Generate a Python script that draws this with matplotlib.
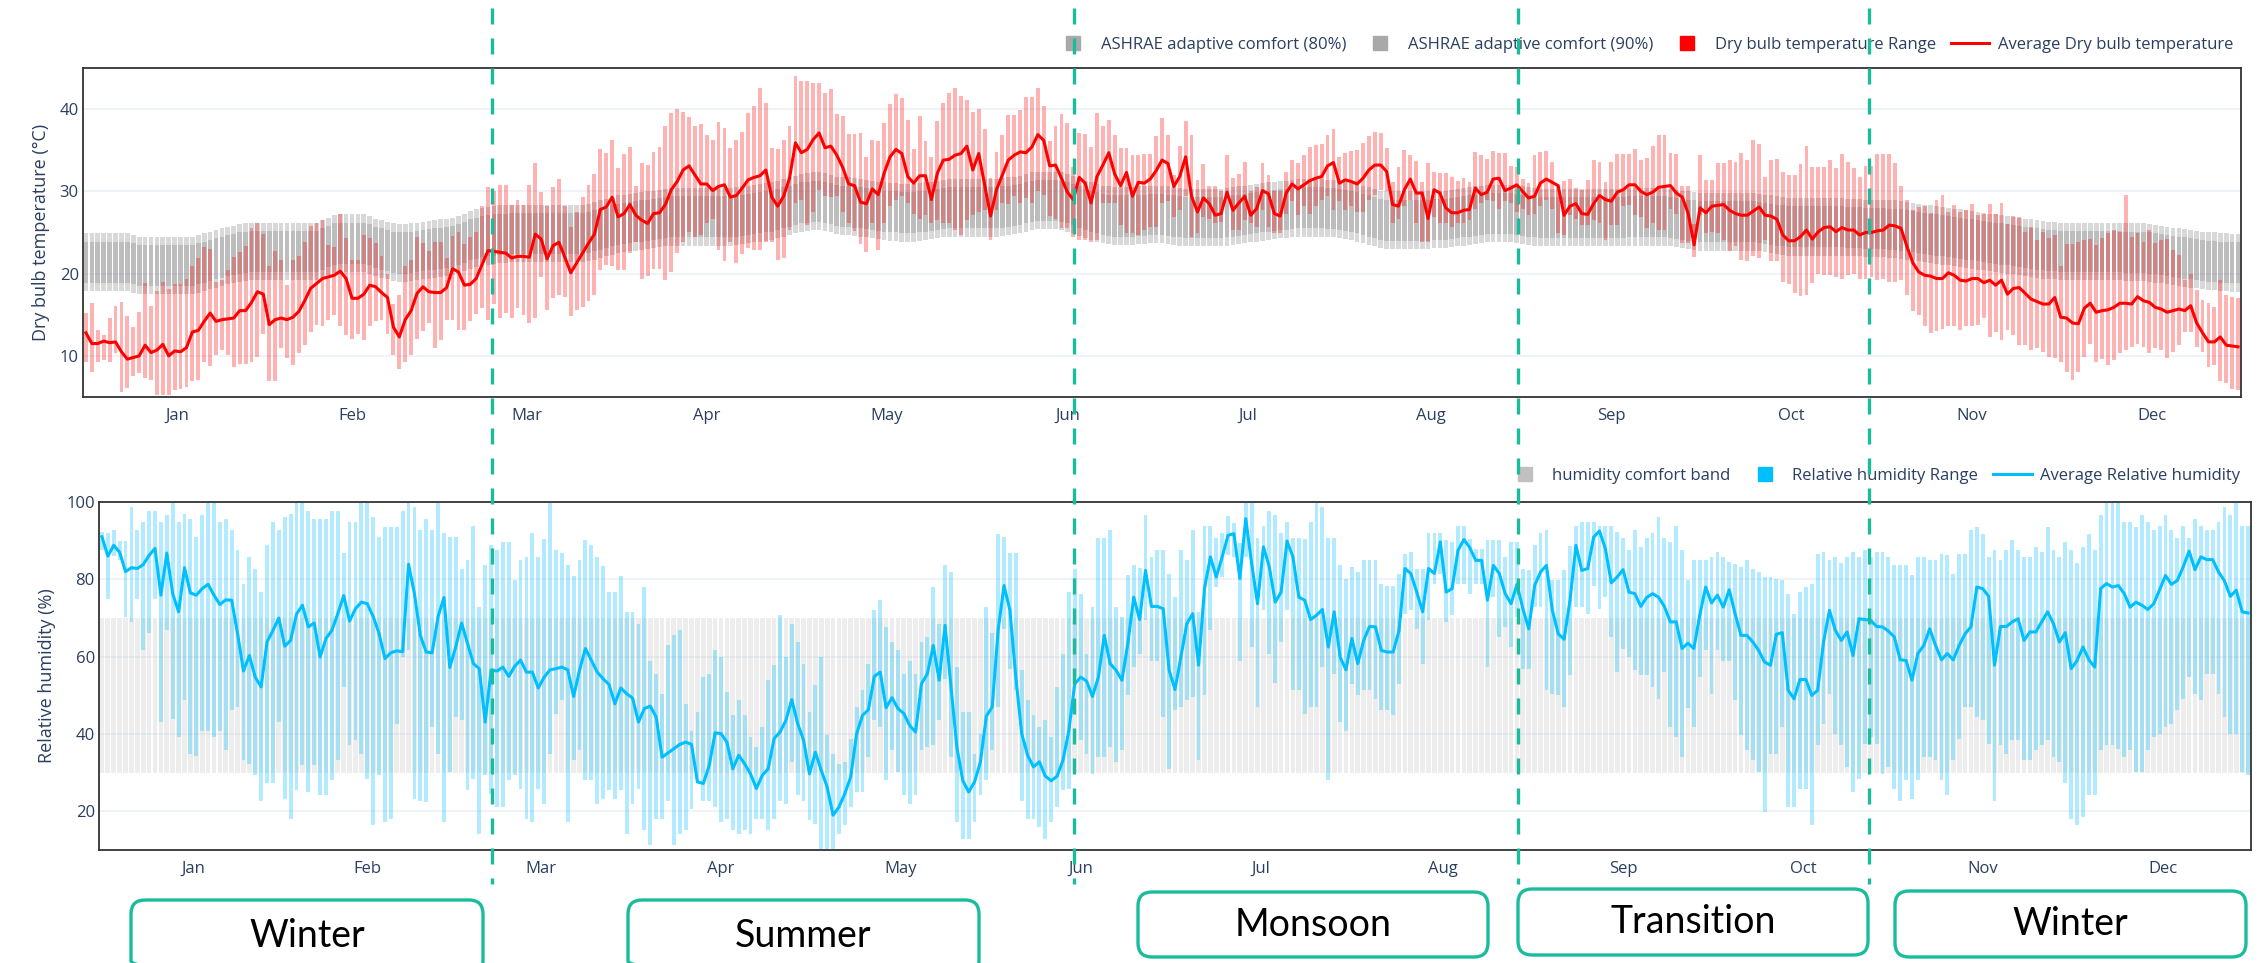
import numpy as np
import matplotlib.pyplot as plt
from matplotlib.lines import Line2D
from matplotlib.patches import FancyBboxPatch

plt.rcParams['font.family'] = ['Open Sans', 'DejaVu Sans']

months = ['Jan', 'Feb', 'Mar', 'Apr', 'May', 'Jun', 'Jul', 'Aug', 'Sep', 'Oct', 'Nov', 'Dec']
month_days = [31, 28, 31, 30, 31, 30, 31, 31, 30, 31, 30, 31]

# daily dry bulb temperature (degC), one row per month
t_avg = [
    12.8, 11.5, 11.5, 11.8, 11.6, 11.7, 10.5, 9.6, 9.8, 10.0, 11.3, 10.4, 10.7, 11.4, 10.0, 10.6, 10.5, 11.0, 12.9, 13.1, 14.2, 15.2, 14.2, 14.4, 14.5, 14.6, 15.5, 15.5, 16.5, 17.8, 17.5,
    13.8, 14.4, 14.6, 14.4, 14.7, 15.4, 16.7, 18.2, 18.8, 19.4, 19.6, 19.8, 20.3, 19.4, 17.0, 17.0, 17.5, 18.6, 18.4, 17.7, 17.1, 13.5, 12.3, 14.4, 15.5, 17.6, 18.4, 17.8,
    17.7, 17.7, 18.3, 20.6, 20.2, 18.6, 18.7, 19.4, 21.1, 22.8, 22.7, 22.6, 22.5, 21.9, 22.1, 22.1, 22.0, 24.8, 24.2, 21.8, 23.4, 23.8, 22.0, 20.1, 21.3, 22.5, 23.7, 24.8, 27.8, 28.1, 29.3,
    26.9, 27.3, 28.4, 27.1, 26.5, 26.1, 27.3, 27.4, 28.4, 30.2, 31.2, 32.6, 33.1, 32.0, 30.9, 30.9, 30.1, 30.6, 30.8, 29.3, 29.5, 30.4, 31.4, 31.7, 31.9, 32.6, 29.3, 28.2, 29.4, 31.6,
    35.9, 34.7, 35.1, 36.3, 37.1, 35.3, 35.5, 34.4, 32.9, 30.9, 30.7, 28.7, 28.5, 30.3, 29.6, 32.2, 34.2, 35.1, 34.6, 31.8, 31.0, 31.9, 31.9, 29.0, 32.2, 33.8, 33.9, 34.4, 34.6, 35.5, 32.6,
    34.6, 30.8, 27.0, 30.2, 32.0, 33.8, 34.4, 34.8, 34.7, 35.4, 36.9, 36.2, 33.1, 33.2, 31.6, 29.9, 29.0, 31.7, 31.0, 28.6, 31.8, 33.2, 34.7, 32.1, 30.7, 32.3, 29.4, 31.1, 31.0, 31.5,
    32.5, 33.8, 33.4, 30.6, 31.8, 34.2, 29.4, 27.5, 29.2, 28.5, 27.1, 27.3, 29.9, 27.7, 28.6, 29.4, 27.1, 27.9, 30.1, 29.7, 27.3, 27.0, 29.8, 30.9, 30.3, 30.8, 31.3, 31.6, 31.8, 33.1, 33.5,
    31.0, 31.4, 31.2, 30.9, 31.6, 32.6, 33.2, 33.2, 32.4, 28.4, 28.2, 30.2, 31.5, 29.8, 29.8, 26.7, 30.2, 29.8, 28.0, 27.4, 27.4, 27.7, 27.8, 30.4, 29.6, 29.9, 31.5, 31.6, 30.1, 30.4, 30.8,
    30.0, 29.2, 29.4, 31.0, 31.5, 31.1, 30.7, 27.1, 28.2, 28.5, 27.3, 27.2, 28.5, 29.5, 29.0, 28.8, 29.9, 30.2, 30.8, 30.8, 30.0, 29.6, 29.9, 30.5, 30.6, 30.7, 29.8, 29.3, 27.3, 23.5,
    28.0, 27.4, 28.2, 28.3, 28.4, 27.7, 27.3, 27.1, 27.1, 27.6, 28.1, 27.1, 27.0, 26.6, 24.7, 24.0, 24.0, 24.5, 25.3, 24.2, 25.1, 25.6, 25.7, 25.1, 25.6, 25.3, 25.3, 24.7, 25.0, 25.0, 25.2,
    25.3, 25.9, 25.8, 25.5, 23.3, 21.3, 20.2, 19.8, 19.7, 19.4, 19.4, 20.1, 19.8, 19.2, 19.1, 19.4, 19.4, 18.9, 19.2, 18.6, 19.2, 17.5, 18.2, 18.3, 17.6, 16.9, 16.6, 16.3, 16.3, 17.1,
    14.7, 14.6, 14.0, 13.9, 15.8, 16.4, 15.3, 15.5, 15.6, 15.9, 16.4, 16.4, 16.3, 17.2, 16.7, 16.5, 15.9, 15.7, 15.3, 15.5, 15.7, 15.5, 16.1, 14.0, 12.8, 11.7, 11.7, 12.3, 11.3, 11.2, 11.1,
]
t_max = [
    15.2, 16.4, 13.2, 12.5, 14.6, 16.1, 16.5, 14.9, 13.5, 15.3, 18.9, 16.1, 17.9, 19.0, 18.1, 18.7, 18.7, 19.4, 20.9, 21.9, 23.2, 23.0, 19.0, 19.2, 20.4, 22.0, 22.6, 23.4, 25.5, 26.2, 24.8,
    20.9, 22.7, 21.7, 18.6, 21.7, 22.1, 23.8, 25.8, 26.1, 26.5, 23.5, 23.2, 27.2, 24.3, 21.7, 21.7, 24.7, 24.3, 23.7, 22.1, 20.0, 16.3, 17.4, 20.9, 21.7, 24.4, 23.7, 22.7,
    23.9, 23.9, 21.9, 24.6, 25.0, 23.6, 24.5, 25.0, 28.2, 30.5, 30.1, 30.8, 30.8, 28.4, 29.0, 28.4, 30.8, 33.5, 29.9, 28.2, 30.5, 31.5, 28.2, 25.7, 27.5, 29.3, 30.8, 32.1, 35.1, 34.7, 36.3,
    32.9, 34.6, 35.4, 30.7, 33.5, 33.2, 34.8, 35.4, 37.9, 39.5, 40.0, 39.6, 39.0, 37.9, 38.2, 36.9, 36.3, 38.4, 37.7, 35.3, 36.3, 37.2, 39.5, 40.4, 42.6, 40.8, 35.3, 35.1, 36.3, 37.9,
    44.0, 43.4, 43.4, 43.2, 43.2, 41.9, 42.5, 39.4, 39.2, 37.0, 37.0, 37.1, 34.2, 36.3, 36.1, 38.3, 40.6, 41.8, 41.4, 38.7, 35.1, 39.2, 36.1, 34.2, 38.5, 40.7, 41.9, 42.6, 41.6, 41.1, 39.7,
    40.0, 37.6, 31.6, 34.8, 36.8, 39.3, 39.3, 39.9, 41.5, 41.5, 42.6, 40.4, 36.1, 38.0, 39.4, 38.3, 33.0, 37.1, 37.0, 35.4, 39.5, 37.9, 38.7, 36.8, 35.3, 35.3, 34.4, 34.4, 34.5, 34.6,
    36.7, 38.9, 36.9, 32.0, 35.5, 38.5, 36.9, 31.4, 33.3, 30.6, 30.7, 30.0, 34.4, 31.6, 32.1, 33.6, 30.0, 30.5, 33.5, 32.0, 30.0, 30.0, 32.4, 33.8, 33.4, 34.4, 35.4, 35.6, 35.7, 36.8, 37.6,
    34.2, 34.7, 34.9, 35.0, 35.9, 36.7, 37.2, 37.1, 35.3, 31.2, 33.0, 35.0, 34.4, 33.7, 31.2, 33.5, 32.3, 32.2, 32.2, 31.8, 31.3, 31.6, 31.2, 34.8, 34.4, 33.9, 34.9, 34.7, 34.7, 33.1, 33.0,
    31.5, 31.0, 34.4, 34.8, 34.9, 33.6, 30.8, 31.3, 31.5, 30.4, 30.2, 31.4, 33.8, 33.6, 31.2, 33.6, 34.5, 34.6, 34.6, 35.1, 33.8, 34.0, 35.5, 36.8, 36.9, 34.7, 34.5, 30.6, 30.6, 26.0,
    34.4, 31.4, 31.4, 33.4, 33.4, 33.8, 33.6, 34.7, 33.8, 36.3, 35.7, 31.8, 33.8, 33.9, 32.4, 32.0, 32.0, 33.3, 35.5, 33.0, 33.0, 33.0, 33.8, 32.8, 34.6, 33.6, 32.8, 31.8, 33.1, 33.1, 34.5,
    34.6, 34.5, 33.4, 30.6, 29.0, 27.7, 28.1, 28.2, 27.4, 28.9, 29.6, 27.5, 28.4, 27.5, 27.7, 28.5, 27.1, 27.3, 28.5, 27.3, 28.6, 26.0, 27.0, 26.9, 25.1, 25.7, 24.1, 25.1, 24.3, 24.7,
    20.9, 23.6, 23.6, 23.9, 24.1, 24.2, 23.5, 24.3, 24.9, 25.3, 25.1, 29.6, 24.5, 24.9, 23.9, 25.3, 23.7, 24.1, 24.2, 22.9, 22.3, 19.2, 20.0, 18.0, 16.8, 16.4, 16.0, 19.2, 17.4, 17.2, 17.0,
]
t_min = [
    9.3, 8.0, 9.3, 9.5, 9.3, 10.3, 5.6, 6.1, 7.5, 7.9, 7.3, 7.1, 5.3, 5.3, 5.3, 5.8, 6.0, 6.2, 6.9, 7.1, 9.3, 8.8, 10.1, 10.7, 10.1, 8.7, 9.0, 9.0, 9.3, 9.9, 12.7,
    7.0, 7.0, 11.0, 9.7, 8.9, 10.4, 11.3, 12.9, 13.8, 13.6, 14.4, 15.0, 13.6, 12.5, 12.1, 12.7, 11.9, 13.6, 14.3, 14.4, 12.7, 10.1, 8.4, 9.2, 10.1, 12.0, 13.0, 14.0,
    11.0, 11.9, 14.4, 14.4, 13.2, 13.2, 14.3, 15.1, 15.8, 14.4, 16.3, 14.6, 15.2, 14.6, 15.8, 15.0, 14.0, 14.6, 19.6, 15.6, 17.0, 17.4, 17.2, 14.8, 15.6, 15.9, 16.7, 17.4, 20.4, 21.1, 20.9,
    20.4, 20.4, 22.5, 23.9, 19.4, 19.7, 20.6, 20.6, 19.2, 20.2, 22.5, 23.9, 25.1, 24.5, 24.7, 26.1, 26.6, 22.9, 21.5, 23.9, 21.3, 22.4, 23.1, 22.9, 22.9, 23.9, 23.9, 21.6, 21.9, 25.3,
    28.6, 29.0, 25.9, 27.5, 30.2, 29.4, 29.3, 29.4, 27.5, 26.1, 25.2, 23.6, 22.6, 26.1, 22.9, 26.1, 28.2, 29.0, 29.4, 28.6, 27.3, 26.7, 27.1, 26.1, 26.5, 26.1, 26.1, 25.3, 24.7, 26.5, 27.1,
    27.5, 27.7, 24.1, 27.7, 28.6, 28.5, 29.4, 28.6, 29.2, 28.6, 30.0, 29.5, 27.0, 26.7, 25.5, 25.5, 24.5, 24.1, 24.1, 23.9, 24.1, 28.6, 28.6, 28.6, 25.9, 24.9, 24.9, 24.7, 25.3, 25.7,
    25.7, 28.6, 28.8, 26.9, 27.7, 29.4, 24.5, 24.9, 26.9, 26.7, 26.1, 26.3, 29.4, 25.3, 25.3, 26.5, 26.1, 25.7, 27.7, 25.7, 24.9, 24.9, 27.3, 28.8, 27.1, 28.2, 27.3, 28.2, 29.0, 29.4, 27.7,
    28.8, 27.7, 28.2, 27.5, 27.5, 29.0, 29.6, 30.2, 30.0, 26.1, 26.7, 28.2, 29.0, 26.1, 23.9, 23.9, 26.9, 26.1, 26.1, 25.7, 26.1, 26.1, 26.5, 27.9, 28.6, 29.0, 28.8, 27.9, 28.8, 28.6, 27.5,
    27.9, 27.1, 27.3, 28.2, 29.0, 27.9, 24.9, 24.7, 27.1, 26.7, 25.9, 25.9, 26.5, 26.1, 24.1, 25.9, 25.9, 28.2, 28.4, 27.1, 26.9, 25.5, 26.1, 25.3, 25.3, 27.9, 27.3, 23.7, 23.7, 22.0,
    27.1, 24.9, 25.1, 24.9, 24.1, 22.7, 23.3, 21.7, 21.5, 22.1, 21.9, 24.1, 21.5, 21.5, 19.0, 18.7, 17.6, 17.3, 17.4, 18.9, 20.0, 19.8, 19.8, 19.6, 19.4, 19.8, 20.0, 19.4, 19.4, 19.6, 19.2,
    19.4, 19.0, 19.0, 19.2, 17.4, 15.4, 15.0, 13.6, 12.8, 13.0, 13.3, 13.6, 13.6, 13.2, 13.6, 13.6, 13.8, 14.6, 12.3, 12.9, 11.9, 13.1, 12.5, 11.3, 11.3, 10.7, 11.0, 10.5, 9.9, 9.8,
    9.3, 8.1, 7.1, 8.1, 9.9, 11.5, 9.3, 9.6, 8.9, 9.5, 10.3, 10.7, 11.1, 11.5, 11.1, 10.3, 11.0, 10.7, 9.8, 10.5, 11.3, 12.9, 12.9, 11.1, 10.5, 8.7, 8.9, 6.9, 6.7, 6.0, 5.8,
]
# centre of the ASHRAE adaptive comfort band (degC)
comfort_mid = [
    21.4, 21.4, 21.4, 21.4, 21.4, 21.4, 21.4, 21.4, 21.2, 21.0, 21.0, 21.0, 21.0, 21.0, 21.0, 21.0, 21.0, 21.0, 21.0, 21.2, 21.4, 21.6, 21.8, 22.0, 22.2, 22.3, 22.5, 22.6, 22.7, 22.7, 22.7,
    22.7, 22.7, 22.7, 22.7, 22.7, 22.7, 22.7, 22.7, 22.7, 23.0, 23.3, 23.6, 23.7, 23.7, 23.7, 23.7, 23.7, 23.5, 23.2, 23.0, 22.8, 22.6, 22.5, 22.5, 22.6, 22.7, 22.8, 22.9,
    23.0, 23.1, 23.2, 23.3, 23.5, 23.8, 24.1, 24.3, 24.5, 24.6, 24.7, 24.8, 24.8, 24.9, 24.9, 24.9, 24.9, 24.9, 24.9, 24.9, 24.9, 24.9, 24.9, 24.9, 24.9, 24.9, 25.0, 25.2, 25.4, 25.6, 25.8,
    26.0, 26.1, 26.2, 26.3, 26.4, 26.5, 26.6, 26.7, 26.8, 26.9, 26.9, 26.9, 26.9, 26.9, 26.9, 26.9, 26.9, 26.9, 26.9, 26.9, 27.0, 27.1, 27.2, 27.3, 27.4, 27.5, 27.6, 27.8, 28.0, 28.2,
    28.4, 28.6, 28.7, 28.8, 28.8, 28.7, 28.5, 28.3, 28.2, 28.2, 28.1, 28.0, 27.9, 27.8, 27.7, 27.6, 27.5, 27.5, 27.4, 27.4, 27.4, 27.5, 27.6, 27.7, 27.8, 27.9, 28.0, 28.0, 28.0, 28.0, 28.0,
    28.0, 28.0, 28.0, 28.0, 28.1, 28.2, 28.3, 28.4, 28.6, 28.8, 28.9, 28.9, 28.9, 28.9, 28.8, 28.6, 28.4, 28.1, 27.8, 27.6, 27.4, 27.2, 27.1, 27.0, 27.0, 27.0, 27.0, 27.1, 27.1, 27.2,
    27.2, 27.2, 27.1, 27.0, 26.9, 26.8, 26.8, 26.8, 26.8, 26.8, 26.8, 26.8, 26.9, 27.0, 27.1, 27.2, 27.3, 27.4, 27.5, 27.6, 27.7, 27.8, 27.8, 27.9, 28.0, 28.0, 28.0, 28.0, 28.0, 27.9, 27.9,
    27.8, 27.7, 27.6, 27.4, 27.2, 27.0, 26.8, 26.6, 26.5, 26.5, 26.5, 26.5, 26.5, 26.5, 26.5, 26.5, 26.6, 26.6, 26.6, 26.7, 26.8, 26.9, 27.0, 27.1, 27.2, 27.3, 27.3, 27.3, 27.3, 27.3, 27.2,
    27.1, 27.0, 26.9, 26.8, 26.8, 26.8, 26.8, 26.8, 26.8, 26.8, 26.8, 26.8, 26.8, 26.8, 26.8, 26.8, 26.8, 26.8, 26.9, 26.9, 26.9, 26.9, 26.9, 26.9, 26.9, 26.8, 26.7, 26.6, 26.5, 26.4,
    26.3, 26.3, 26.3, 26.3, 26.3, 26.3, 26.3, 26.3, 26.3, 26.3, 26.2, 26.1, 26.0, 25.9, 25.8, 25.7, 25.7, 25.7, 25.7, 25.7, 25.7, 25.7, 25.7, 25.7, 25.7, 25.6, 25.6, 25.6, 25.5, 25.5, 25.5,
    25.5, 25.4, 25.4, 25.3, 25.2, 25.1, 25.0, 24.9, 24.8, 24.7, 24.6, 24.5, 24.4, 24.3, 24.2, 24.1, 24.0, 23.9, 23.8, 23.7, 23.6, 23.5, 23.4, 23.3, 23.2, 23.1, 23.0, 22.9, 22.8, 22.8,
    22.7, 22.7, 22.7, 22.7, 22.7, 22.7, 22.7, 22.7, 22.7, 22.7, 22.7, 22.6, 22.6, 22.6, 22.6, 22.5, 22.4, 22.3, 22.2, 22.1, 22.0, 21.9, 21.8, 21.7, 21.6, 21.5, 21.5, 21.4, 21.4, 21.3, 21.3,
]

# daily relative humidity (%)
rh_avg = [
    91.0, 86.0, 88.8, 87.0, 82.0, 83.0, 82.8, 83.8, 86.2, 88.0, 75.9, 86.8, 76.3, 71.6, 83.0, 76.5, 75.9, 77.6, 78.7, 75.9, 73.5, 74.7, 74.6, 66.0, 56.3, 60.3, 54.7, 52.2, 63.8, 66.8, 70.0,
    62.7, 64.2, 71.0, 73.3, 67.7, 68.7, 59.9, 64.7, 66.8, 71.1, 75.8, 69.2, 72.4, 74.1, 73.7, 70.4, 66.0, 59.5, 61.0, 61.5, 61.3, 83.9, 76.3, 65.5, 61.2, 61.0, 70.3, 75.3,
    57.2, 62.5, 68.7, 63.4, 58.2, 56.9, 43.1, 56.5, 56.3, 57.3, 54.9, 57.5, 59.1, 56.0, 56.0, 51.9, 54.7, 56.6, 56.9, 57.3, 56.6, 49.7, 56.5, 62.1, 59.1, 56.0, 54.3, 52.8, 47.8, 51.9, 50.4,
    49.3, 43.1, 46.6, 47.2, 44.4, 34.0, 35.1, 36.2, 37.3, 37.9, 37.3, 27.6, 27.2, 31.9, 40.3, 40.1, 37.9, 31.0, 34.5, 32.3, 29.7, 25.9, 29.3, 31.0, 38.8, 40.5, 43.5, 48.9, 42.7, 38.4,
    29.7, 35.3, 30.6, 26.3, 19.0, 21.1, 24.6, 28.9, 40.1, 44.8, 46.3, 54.9, 56.0, 46.8, 49.4, 46.6, 45.3, 42.2, 40.5, 53.0, 55.6, 62.9, 53.9, 68.1, 52.2, 36.6, 28.0, 25.0, 27.6, 32.8, 44.6,
    47.0, 66.8, 78.4, 72.0, 54.7, 40.1, 34.5, 31.5, 32.8, 29.1, 27.9, 29.1, 33.2, 40.9, 53.0, 54.7, 53.7, 49.7, 54.7, 65.5, 58.2, 56.5, 53.9, 63.4, 75.4, 69.6, 82.3, 73.0, 73.0, 72.4,
    56.5, 51.5, 59.9, 68.5, 71.1, 57.8, 77.6, 85.8, 80.6, 85.8, 91.4, 91.8, 80.2, 95.7, 84.1, 73.7, 88.4, 83.2, 74.1, 76.7, 89.9, 85.8, 75.4, 74.6, 69.6, 70.7, 72.2, 62.5, 71.6, 59.9, 56.6,
    64.7, 58.2, 64.2, 67.8, 67.7, 61.6, 61.2, 61.2, 66.8, 82.8, 81.5, 76.7, 71.6, 82.8, 81.5, 89.7, 76.7, 77.6, 87.5, 90.3, 88.2, 84.9, 84.9, 74.6, 83.6, 81.5, 76.3, 73.7, 78.7, 72.4, 67.2,
    78.4, 81.9, 83.6, 72.0, 65.9, 64.5, 74.6, 88.8, 82.3, 82.8, 90.9, 92.5, 87.9, 79.1, 80.6, 82.5, 76.7, 76.3, 73.0, 75.3, 76.3, 75.4, 73.0, 69.0, 69.0, 62.1, 63.5, 62.1, 70.7, 78.0,
    73.9, 75.9, 72.8, 77.3, 71.1, 65.5, 65.5, 63.8, 61.6, 58.6, 57.8, 65.8, 66.2, 51.3, 49.1, 54.1, 54.1, 50.0, 51.3, 63.8, 72.0, 66.8, 64.2, 66.4, 60.3, 69.8, 69.6, 69.4, 67.8, 67.7, 66.6,
    65.1, 59.2, 59.0, 53.9, 60.8, 62.9, 67.2, 62.9, 59.2, 60.8, 59.2, 62.9, 65.9, 67.7, 78.0, 77.6, 75.6, 57.8, 67.8, 67.8, 69.0, 69.8, 64.2, 66.4, 66.4, 69.0, 71.6, 68.5, 63.8, 66.2,
    56.9, 59.0, 62.5, 59.2, 57.3, 77.6, 78.9, 78.0, 78.4, 76.3, 72.8, 74.1, 73.3, 72.2, 73.7, 77.3, 81.0, 78.7, 79.7, 83.2, 87.3, 82.5, 85.8, 85.1, 85.1, 81.9, 79.6, 75.6, 77.2, 71.6, 71.3,
]
rh_max = [
    92.2, 92.0, 92.7, 90.0, 90.0, 98.7, 92.7, 94.8, 97.7, 97.7, 94.8, 96.6, 99.7, 94.8, 96.8, 95.7, 90.9, 96.6, 99.7, 99.7, 94.8, 95.7, 92.7, 87.7, 78.7, 85.8, 82.8, 76.7, 88.8, 94.8, 92.7,
    96.0, 96.8, 99.7, 99.7, 97.8, 95.7, 95.7, 95.7, 97.8, 97.8, 86.8, 94.8, 94.8, 99.7, 99.7, 96.0, 90.9, 93.5, 93.5, 93.5, 97.8, 99.7, 98.7, 92.7, 95.7, 92.7, 99.7, 92.0,
    90.9, 90.9, 82.8, 84.9, 93.7, 72.8, 83.6, 88.8, 87.7, 89.7, 89.7, 79.7, 84.9, 85.8, 92.0, 85.8, 90.5, 99.7, 87.7, 86.8, 83.6, 80.8, 84.9, 90.1, 88.8, 85.8, 83.4, 76.7, 76.7, 80.8, 71.6,
    71.6, 68.5, 78.0, 59.0, 55.6, 50.4, 62.9, 65.5, 66.8, 47.8, 40.9, 45.7, 54.7, 55.6, 61.6, 59.9, 50.9, 44.8, 48.7, 44.8, 39.2, 36.6, 41.8, 53.9, 57.8, 70.7, 59.9, 68.5, 63.8, 58.2,
    45.7, 52.6, 59.9, 39.7, 34.9, 32.3, 32.8, 38.8, 47.0, 51.3, 58.2, 72.0, 74.7, 67.7, 63.8, 61.6, 55.6, 59.0, 55.6, 63.8, 65.1, 78.0, 68.5, 83.6, 81.9, 57.3, 45.7, 45.7, 34.9, 40.1, 72.8,
    66.0, 91.8, 90.9, 86.8, 86.8, 56.5, 48.7, 44.8, 41.8, 43.5, 39.2, 52.2, 60.8, 76.7, 82.8, 76.3, 60.8, 72.8, 90.8, 90.8, 92.7, 72.8, 70.3, 81.0, 83.6, 83.0, 96.6, 85.8, 87.7, 87.7,
    81.5, 75.4, 87.7, 84.9, 92.7, 71.6, 93.7, 93.7, 90.8, 92.0, 96.3, 94.6, 89.4, 99.7, 99.7, 90.8, 93.7, 97.7, 96.6, 92.0, 94.8, 90.8, 90.8, 90.5, 94.8, 99.7, 98.7, 90.8, 90.8, 83.6, 80.2,
    83.2, 81.9, 84.9, 84.9, 84.9, 78.7, 78.4, 78.4, 81.5, 86.6, 87.1, 82.8, 82.8, 92.0, 92.0, 92.0, 90.1, 89.7, 93.7, 93.7, 90.5, 87.9, 87.9, 90.1, 90.1, 90.1, 85.8, 89.7, 89.7, 82.8, 82.3,
    88.8, 92.0, 92.7, 79.7, 79.7, 82.3, 88.5, 93.7, 94.8, 94.8, 94.8, 93.7, 93.7, 93.7, 92.2, 90.8, 87.5, 92.7, 88.4, 90.8, 92.0, 96.0, 90.8, 89.7, 93.7, 87.7, 79.7, 84.9, 84.9, 84.9,
    85.8, 87.1, 85.8, 84.5, 83.9, 83.2, 84.9, 82.8, 81.9, 80.6, 80.6, 80.2, 79.7, 76.3, 71.1, 76.7, 78.0, 78.9, 86.6, 87.1, 84.9, 85.8, 84.1, 85.8, 87.1, 85.8, 87.5, 85.8, 87.1, 87.1, 85.8,
    83.6, 83.6, 83.6, 81.0, 85.8, 85.8, 84.9, 84.9, 86.6, 86.2, 81.5, 86.6, 86.6, 92.7, 93.5, 91.8, 85.8, 87.7, 84.9, 87.5, 90.1, 87.5, 85.8, 85.8, 88.4, 87.1, 93.5, 87.5, 85.8, 89.7,
    87.5, 84.1, 88.4, 91.8, 87.5, 96.6, 99.7, 99.7, 99.7, 94.8, 94.8, 93.5, 96.6, 94.8, 92.7, 93.7, 96.6, 92.7, 90.8, 93.7, 90.8, 95.7, 93.7, 92.7, 92.7, 94.8, 98.7, 96.6, 99.7, 93.7, 93.7,
]
rh_min = [
    87.5, 75.0, 86.0, 85.0, 70.3, 69.0, 75.0, 61.8, 66.0, 75.0, 43.1, 66.8, 44.0, 39.2, 48.9, 34.9, 34.2, 40.9, 40.9, 39.2, 40.9, 35.9, 46.1, 47.0, 33.2, 32.2, 29.3, 22.8, 27.2, 27.2, 43.1,
    23.3, 18.1, 25.4, 31.9, 25.0, 31.9, 24.1, 24.1, 28.0, 33.2, 52.2, 37.1, 38.4, 34.9, 28.4, 16.4, 29.3, 17.2, 18.1, 42.7, 59.9, 61.6, 23.3, 22.8, 22.4, 41.8, 34.9, 17.2,
    30.2, 44.4, 43.5, 25.4, 28.4, 14.2, 29.3, 24.6, 21.1, 21.1, 28.0, 29.3, 25.9, 18.1, 17.2, 25.9, 22.0, 34.9, 45.3, 48.7, 17.2, 33.2, 35.8, 28.0, 28.0, 22.0, 23.3, 25.4, 23.3, 25.4, 14.2,
    22.0, 25.9, 15.1, 11.2, 18.1, 18.1, 22.8, 11.2, 14.2, 15.1, 20.7, 27.2, 22.8, 22.8, 21.1, 17.2, 18.1, 15.1, 14.2, 15.1, 14.2, 18.1, 18.1, 15.1, 18.1, 22.8, 22.0, 32.8, 24.1, 22.8,
    17.7, 16.8, 10.3, 10.3, 10.3, 14.2, 16.4, 21.1, 25.0, 25.0, 34.1, 43.5, 41.8, 28.0, 35.8, 30.2, 24.1, 22.0, 24.1, 35.8, 36.6, 37.1, 43.5, 54.3, 34.1, 17.2, 12.9, 12.9, 17.2, 24.1, 28.0,
    35.8, 47.0, 67.2, 56.9, 51.3, 22.8, 18.1, 18.1, 15.9, 12.9, 17.2, 21.1, 25.4, 25.9, 54.7, 38.4, 34.9, 29.7, 34.1, 34.1, 36.6, 32.8, 35.8, 50.0, 57.3, 60.8, 69.6, 59.0, 59.0, 44.4,
    31.0, 46.1, 47.0, 48.7, 49.6, 33.2, 50.0, 66.8, 78.0, 80.6, 86.2, 85.8, 59.0, 85.8, 62.5, 47.0, 72.0, 60.8, 53.2, 63.8, 72.0, 51.3, 51.3, 45.3, 47.0, 47.0, 57.3, 28.0, 55.6, 43.1, 40.9,
    53.0, 50.0, 51.3, 51.3, 49.1, 46.1, 46.1, 44.8, 53.0, 71.1, 72.0, 67.2, 58.2, 69.4, 78.9, 81.5, 69.0, 70.7, 78.9, 78.9, 76.3, 78.9, 78.9, 57.3, 75.4, 65.1, 67.7, 62.5, 70.3, 56.9, 56.9,
    72.8, 72.8, 51.3, 50.4, 50.0, 47.0, 55.2, 72.8, 72.8, 71.1, 78.4, 72.2, 75.4, 65.1, 56.0, 62.1, 59.9, 56.5, 55.2, 55.2, 52.2, 49.1, 56.0, 41.8, 39.2, 34.1, 46.6, 41.8, 54.7, 61.6,
    50.4, 61.6, 59.0, 59.0, 48.7, 39.7, 35.8, 33.2, 30.2, 19.8, 34.9, 34.9, 41.8, 21.1, 21.1, 25.9, 25.9, 16.4, 37.1, 42.7, 50.4, 40.1, 37.1, 31.5, 25.0, 28.4, 37.5, 39.2, 37.5, 29.7, 31.5,
    25.9, 22.8, 28.0, 23.3, 28.0, 34.1, 34.1, 33.2, 28.0, 24.1, 33.2, 38.8, 47.0, 47.0, 44.4, 43.5, 37.5, 22.8, 37.1, 34.9, 38.4, 38.4, 33.2, 33.2, 35.8, 37.1, 38.4, 34.1, 32.8, 27.2,
    18.1, 16.4, 18.5, 24.1, 24.1, 35.8, 37.1, 37.1, 36.2, 34.1, 35.8, 30.2, 30.2, 35.8, 39.2, 40.1, 41.8, 42.7, 46.1, 49.1, 54.7, 50.4, 48.7, 55.6, 55.6, 50.4, 44.4, 40.1, 40.1, 30.2, 29.3,
]
rh_comfort = [30, 70]

seasons = ['Winter', 'Summer', 'Monsoon', 'Transition', 'Winter']

# ---- layout in pixels of the 2262 x 963 canvas ----
W, H = 2262, 963
fig = plt.figure(figsize=(W / 100, H / 100), dpi=100)


def px_axes(left, top, right, bottom):
    return fig.add_axes([left / W, 1 - bottom / H, (right - left) / W, (bottom - top) / H])


ax1 = px_axes(83, 68, 2241, 397)
ax2 = px_axes(99, 502, 2251, 850)

TXT = '#2a3f5f'
starts = np.cumsum([0] + month_days[:-1])
mids = starts + np.array(month_days) / 2.0

# ---- temperature panel ----
days = np.arange(len(t_avg))
mid = np.array(comfort_mid)
tmax = np.array(t_max)
tmin = np.array(t_min)
ax1.bar(days, 7.0, bottom=mid - 3.5, width=0.8, color='gray', alpha=0.3, lw=0, zorder=2)
ax1.bar(days, 5.0, bottom=mid - 2.5, width=0.8, color='gray', alpha=0.3, lw=0, zorder=2)
ax1.bar(days, tmax - tmin, bottom=tmin, width=0.65, color='red', alpha=0.3, lw=0, zorder=3)
ax1.plot(days, t_avg, color='red', lw=2.2, zorder=4)
ax1.set_ylim(5, 45)
ax1.set_yticks([10, 20, 30, 40])
ax1.set_ylabel('Dry bulb temperature (°C)', fontsize=13, color=TXT, labelpad=7)

# ---- humidity panel ----
rdays = np.arange(len(rh_avg))
rmax = np.array(rh_max)
rmin = np.array(rh_min)
ax2.bar(rdays, rh_comfort[1] - rh_comfort[0], bottom=rh_comfort[0], width=0.8,
        color='silver', alpha=0.28, lw=0, zorder=2)
ax2.bar(rdays, rmax - rmin, bottom=rmin, width=0.65, color='#00bfff', alpha=0.3, lw=0, zorder=3)
ax2.plot(rdays, rh_avg, color='#00bfff', lw=2.2, zorder=4)
ax2.set_ylim(10, 100)
ax2.set_yticks([20, 40, 60, 80, 100])
ax2.set_ylabel('Relative humidity (%)', fontsize=13, color=TXT, labelpad=7)

for ax in (ax1, ax2):
    ax.set_xlim(-0.5, 364.5)
    ax.set_xticks(mids)
    ax.set_xticklabels(months)
    ax.tick_params(length=0, labelsize=12, labelcolor=TXT)
    ax.tick_params(axis='x', pad=8)
    ax.tick_params(axis='y', pad=3)
    ax.yaxis.grid(True, color='#ebf0f8', lw=1.2, zorder=0)
    ax.set_axisbelow(True)
    for s in ax.spines.values():
        s.set_color('#333333')
        s.set_linewidth(1.3)


def square(c):
    return Line2D([], [], ls='none', marker='s', markersize=9.5, color=c)


h1 = [square('darkgray'), square('darkgray'), square('red'), Line2D([], [], color='red', lw=2.2)]
l1 = ['ASHRAE adaptive comfort (80%)', 'ASHRAE adaptive comfort (90%)',
      'Dry bulb temperature Range', 'Average Dry bulb temperature']
ax1.legend(h1, l1, loc='center right', bbox_to_anchor=(1 - 8 / 2158, 1 + 23 / 329), ncol=4,
           frameon=False, fontsize=12, labelcolor=TXT, handlelength=2.3,
           handletextpad=0.5, columnspacing=0.9, borderpad=0, borderaxespad=0)

h2 = [square('silver'), square('#00bfff'), Line2D([], [], color='#00bfff', lw=2.2)]
l2 = ['humidity comfort band', 'Relative humidity Range', 'Average Relative humidity']
ax2.legend(h2, l2, loc='center right', bbox_to_anchor=(1 - 11 / 2152, 1 + 26 / 348), ncol=3,
           frameon=False, fontsize=12, labelcolor=TXT, handlelength=2.3,
           handletextpad=0.5, columnspacing=0.9, borderpad=0, borderaxespad=0)

# ---- season markers drawn on a pixel overlay ----
ov = fig.add_axes([0, 0, 1, 1])
ov.set_xlim(0, W)
ov.set_ylim(H, 0)
ov.axis('off')

TEAL = '#1abc9c'
for x in [492, 1074, 1518, 1869]:
    ov.plot([x, x], [8, 884], color=TEAL, lw=2.4, dashes=(4.8, 4.2), zorder=10)

boxes = [(131, 900, 483, 975), (628, 900, 979, 975), (1138, 892, 1488, 957),
         (1518, 889, 1868, 955), (1895, 891, 2246, 957)]
text_y = [936, 936, 925, 922, 924]
for name, (x0, y0, x1, y1), ty in zip(seasons, boxes, text_y):
    ov.add_patch(FancyBboxPatch((x0, y0), x1 - x0, y1 - y0,
                                boxstyle='round,pad=0,rounding_size=14',
                                fill=False, ec=TEAL, lw=2.4, zorder=10))
    ov.text((x0 + x1) / 2, ty, name, ha='center', va='center', fontsize=27,
            family=['Lato', 'DejaVu Sans'], color='black', zorder=11)

fig.savefig('out.png', dpi=100)
